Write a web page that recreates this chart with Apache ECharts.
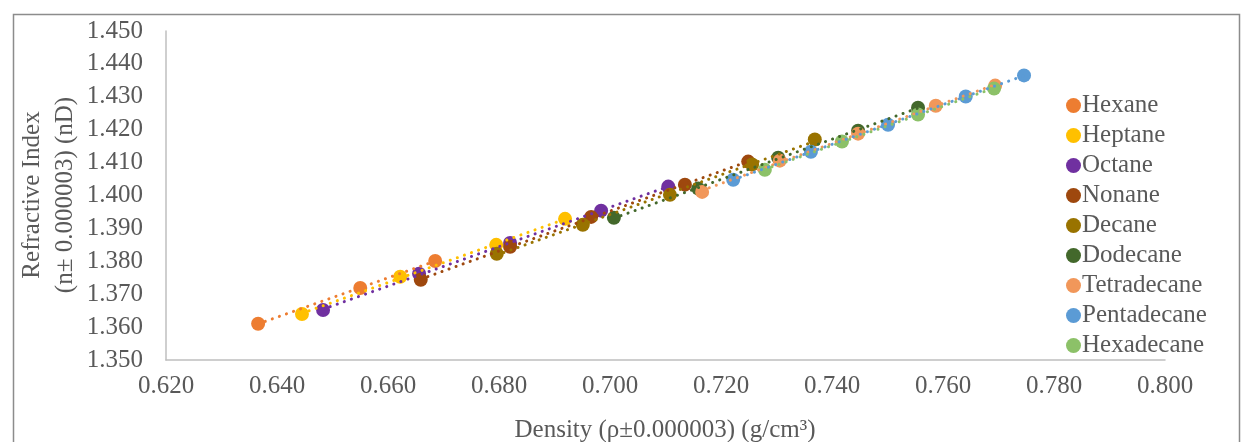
<!DOCTYPE html>
<html>
<head>
<meta charset="utf-8">
<script src="https://cdn.jsdelivr.net/npm/echarts@6/dist/echarts.min.js"></script>
<style>
html, body { margin: 0; padding: 0; background: #fff; }
#chart { width: 1248px; height: 442px; }
</style>
</head>
<body>
<div id="chart"></div>
<script>
// [density, refractive index]
const hexane = [[0.6366, 1.3610], [0.6550, 1.3719], [0.6685, 1.3801]]
const heptane = [[0.6445, 1.3640], [0.6622, 1.3753], [0.6795, 1.3850], [0.6919, 1.3929]]
const octane = [[0.6483, 1.3652], [0.6656, 1.3762], [0.6820, 1.3856], [0.6984, 1.3954], [0.7105, 1.4027]]
const nonane = [[0.6659, 1.3744], [0.6820, 1.3844], [0.6966, 1.3935], [0.7135, 1.4033], [0.7249, 1.4103]]
const decane = [[0.6796, 1.3823], [0.6951, 1.3911], [0.7108, 1.4002], [0.7256, 1.4094], [0.7369, 1.4170]]
const dodecane = [[0.7007, 1.3932], [0.7159, 1.4021], [0.7303, 1.4115], [0.7447, 1.4197], [0.7555, 1.4267]]
const tetradecane = [[0.7166, 1.4011], [0.7306, 1.4106], [0.7447, 1.4188], [0.7587, 1.4273], [0.7694, 1.4334]]
const pentadecane = [[0.7222, 1.4048], [0.7362, 1.4133], [0.7501, 1.4215], [0.7641, 1.4301], [0.7746, 1.4365]]
const hexadecane = [[0.7279, 1.4078], [0.7418, 1.4164], [0.7555, 1.4246], [0.7692, 1.4325]]

const names = ['Hexane', 'Heptane', 'Octane', 'Nonane', 'Decane', 'Dodecane', 'Tetradecane', 'Pentadecane', 'Hexadecane']
const colors = ['#ED7D31', '#FFC000', '#7030A0', '#9E480E', '#997300', '#43682B', '#F1975A', '#5B9BD5', '#8CC168']
const allData = [hexane, heptane, octane, nonane, decane, dodecane, tetradecane, pentadecane, hexadecane]

const font = 'Liberation Serif'
const textColor = '#595959'

// excel style linear trendline over the data range
function trend(pts) {
  let n = pts.length, sx = 0, sy = 0, sxx = 0, sxy = 0
  pts.forEach(p => {
    sx += p[0]; sy += p[1]; sxx += p[0] * p[0]; sxy += p[0] * p[1]
  })
  let b = (n * sxy - sx * sy) / (n * sxx - sx * sx)
  let a = (sy - b * sx) / n
  let xs = pts.map(p => p[0])
  let x0 = Math.min(...xs), x1 = Math.max(...xs)
  return [[x0, a + b * x0], [x1, a + b * x1]]
}

let series = []
allData.forEach((pts, i) => {
  series.push({
    name: names[i],
    type: 'scatter',
    symbol: 'circle',
    symbolSize: 14,
    z: 2,
    itemStyle: { color: colors[i], opacity: 1 },
    data: pts
  })
})
allData.forEach((pts, i) => {
  series.push({
    name: names[i] + ' trend',
    type: 'line',
    symbol: 'none',
    silent: true,
    z: 3,
    lineStyle: { color: colors[i], width: 3, type: [0.1, 7.4], cap: 'round' },
    data: trend(pts)
  })
})

let option = {
  animation: false,
  backgroundColor: '#fff',
  grid: { left: 166, right: 83, top: 31, bottom: 82 },
  legend: {
    data: names,
    orient: 'vertical',
    left: 1061,
    top: 88,
    itemWidth: 15,
    itemHeight: 15,
    itemGap: 5,
    icon: 'circle',
    textStyle: { fontFamily: font, fontSize: 25, color: textColor, lineHeight: 24, padding: [0, 0, 0, -4] }
  },
  xAxis: {
    type: 'value',
    min: 0.62,
    max: 0.8,
    interval: 0.02,
    axisLine: { show: true, lineStyle: { color: '#BFBFBF', width: 1.5 } },
    axisTick: { show: false },
    splitLine: { show: false },
    axisLabel: {
      margin: 14,
      fontFamily: font,
      fontSize: 25,
      color: textColor,
      formatter: v => v.toFixed(3)
    }
  },
  yAxis: {
    type: 'value',
    min: 1.35,
    max: 1.45,
    interval: 0.01,
    axisLine: { show: true, lineStyle: { color: '#BFBFBF', width: 1.5 } },
    axisTick: { show: false },
    splitLine: { show: false },
    axisLabel: {
      margin: 23,
      fontFamily: font,
      fontSize: 25,
      color: textColor,
      formatter: v => v.toFixed(3)
    }
  },
  graphic: [
    {
      type: 'rect',
      left: 11,
      top: 12,
      shape: { width: 1226, height: 440 },
      style: { fill: 'none', stroke: '#8C8C8C', lineWidth: 1.5 },
      silent: true
    },
    {
      type: 'text',
      x: 49,
      y: 195,
      rotation: Math.PI / 2,
      style: {
        text: 'Refractive Index\n(n\u00b1 0.000003) (nD)',
        fontFamily: font,
        fontSize: 25,
        lineHeight: 33,
        fill: textColor,
        align: 'center',
        verticalAlign: 'middle'
      }
    },
    {
      type: 'text',
      x: 665,
      y: 430,
      style: {
        text: 'Density (\u03c1\u00b10.000003) (g/cm\u00b3)',
        fontFamily: font,
        fontSize: 25,
        fill: textColor,
        align: 'center',
        verticalAlign: 'middle'
      }
    }
  ],
  series: series
}

let myChart = echarts.init(document.getElementById('chart'), null, { renderer: 'canvas' })
myChart.setOption(option)
</script>
</body>
</html>
